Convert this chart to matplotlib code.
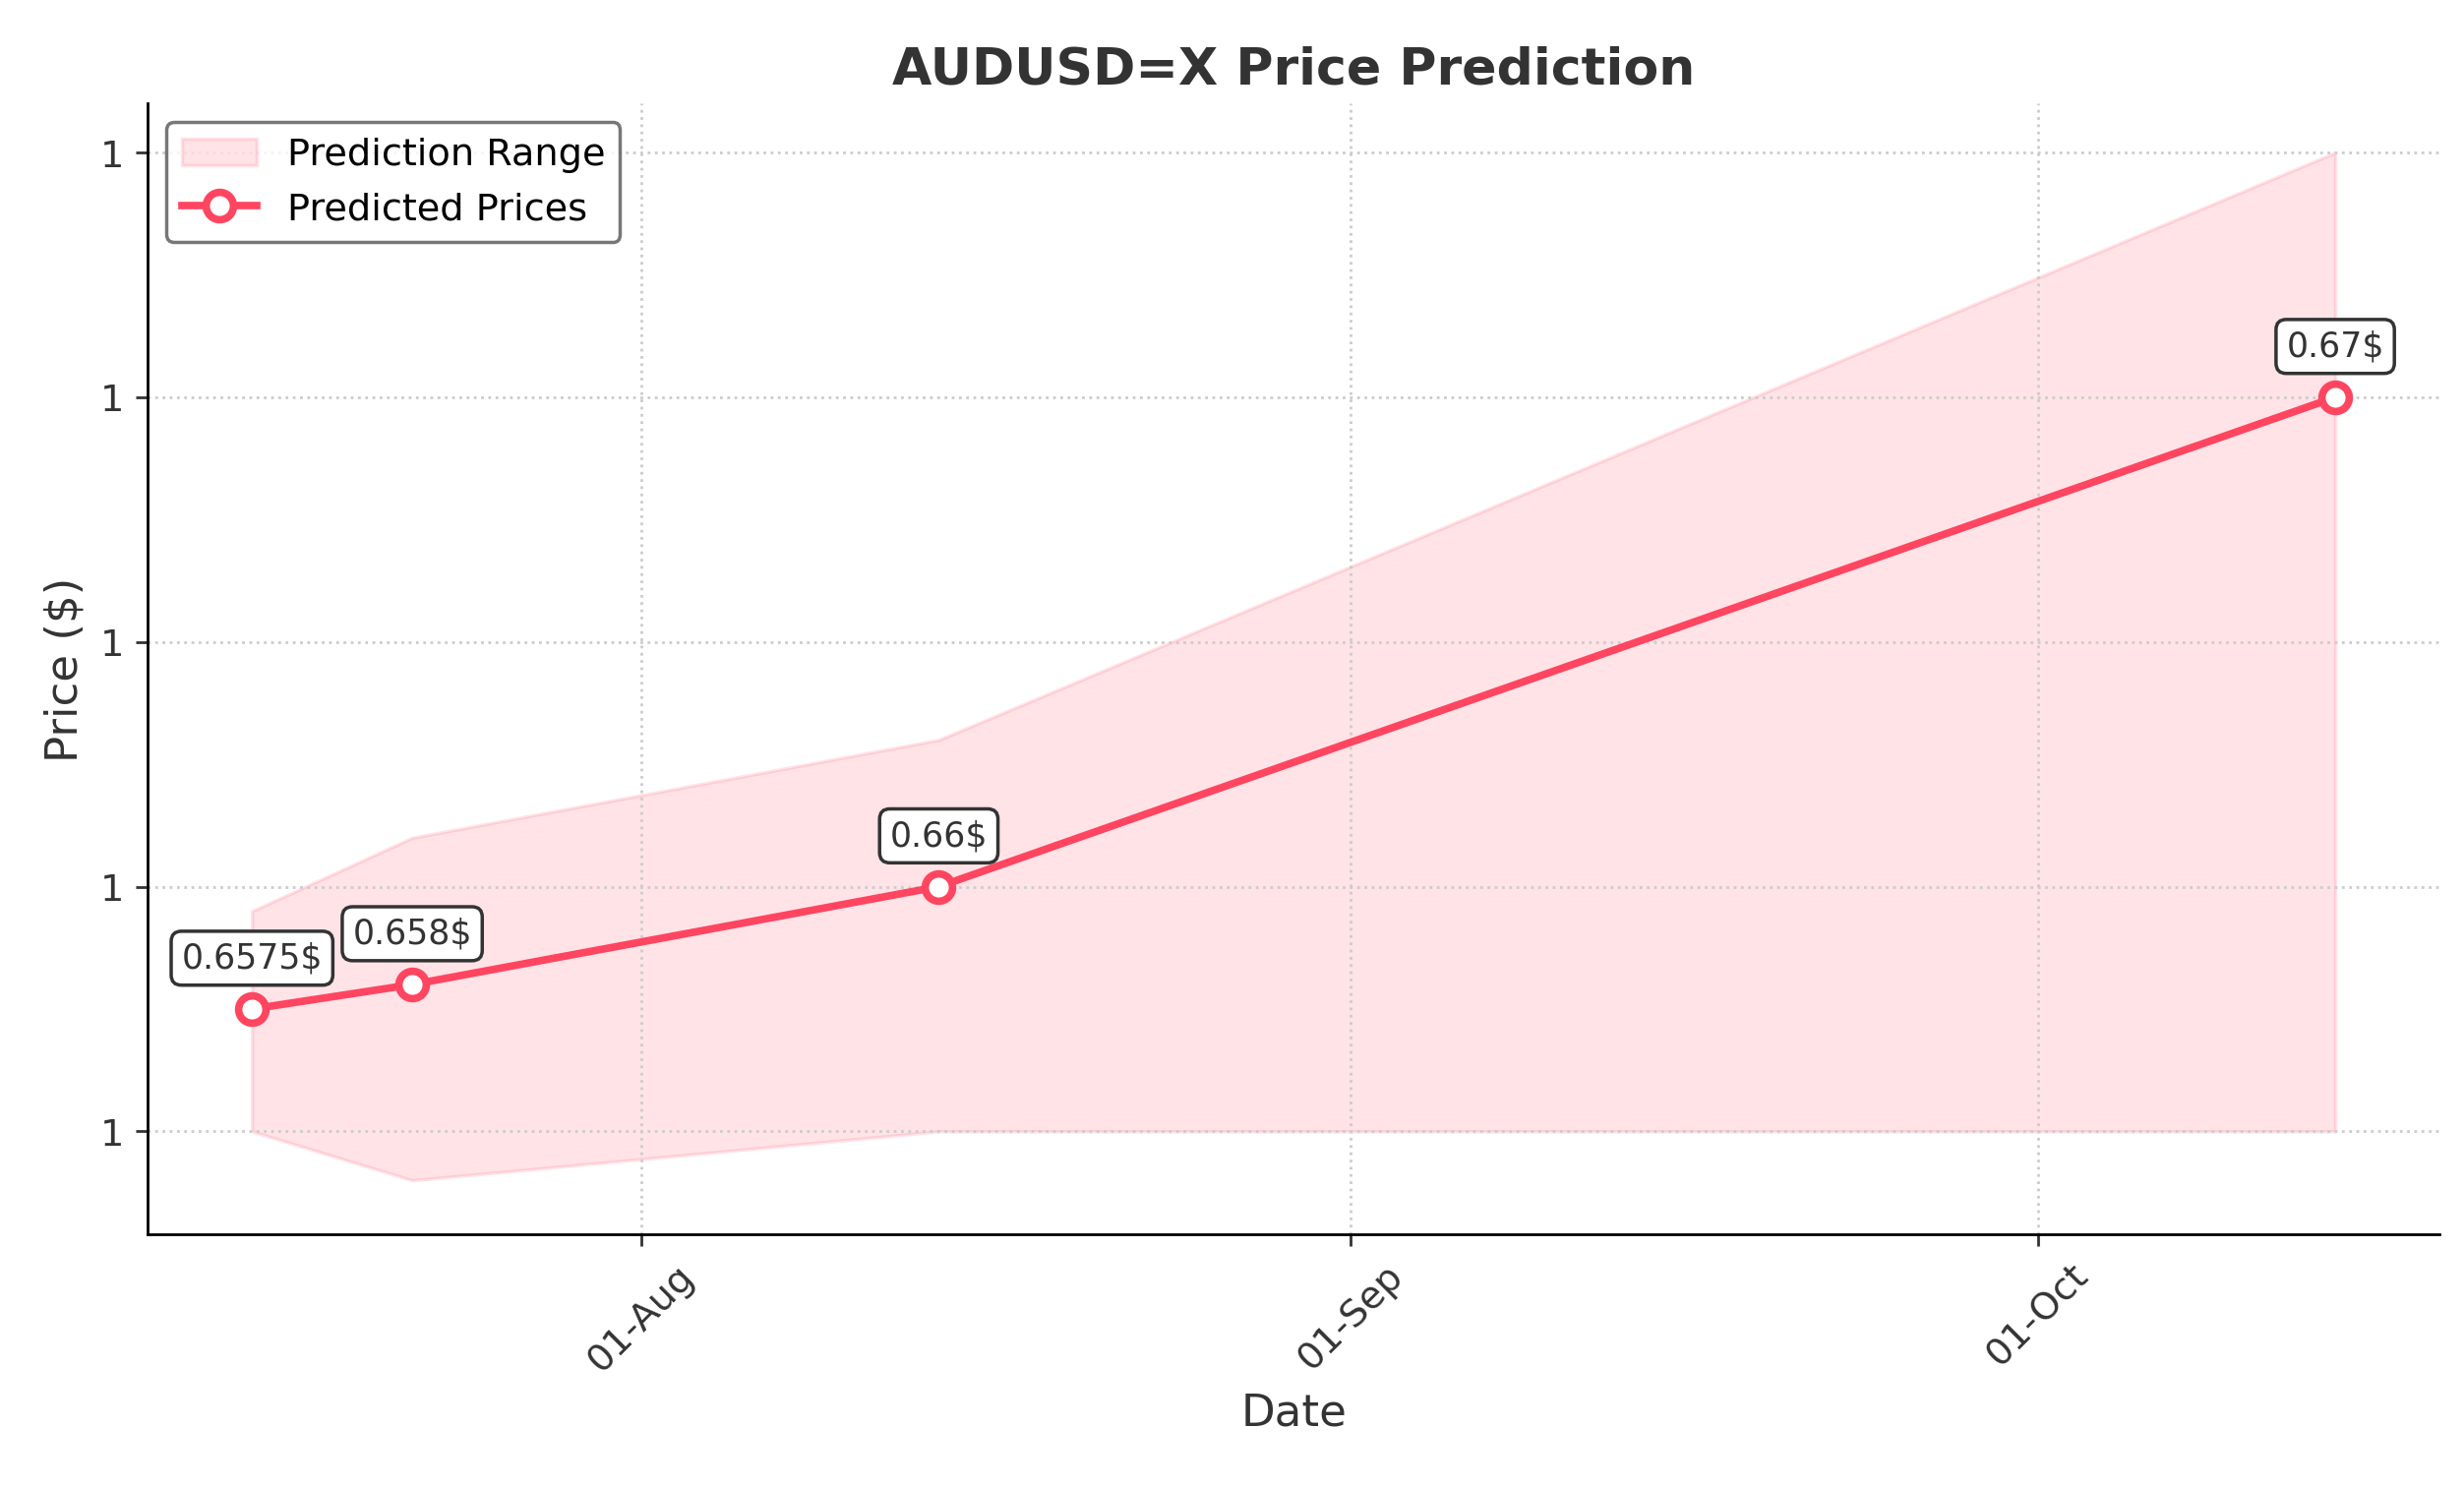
import matplotlib
matplotlib.use('agg')
import matplotlib.pyplot as plt
import matplotlib.dates as mdates
from matplotlib.ticker import FormatStrFormatter
import pandas as pd

dates = pd.to_datetime(['2024-07-15', '2024-07-22', '2024-08-14', '2024-10-14'])
predicted = [0.6575, 0.658, 0.66, 0.67]
lower = [0.655, 0.654, 0.655, 0.655]
upper = [0.6595, 0.661, 0.663, 0.675]
labels = ['0.6575$', '0.658$', '0.66$', '0.67$']

color = '#ff4560'
fig, ax = plt.subplots(figsize=(10.02, 6.05), dpi=250)
fig.subplots_adjust(left=0.06, right=0.99, top=0.93, bottom=0.17)

ax.fill_between(dates, lower, upper, color=color, alpha=0.15, label='Prediction Range')
ax.plot(dates, predicted, color=color, lw=2.2, marker='o', markersize=8,
        markerfacecolor='white', markeredgewidth=2.2, label='Predicted Prices')

for d, p, t in zip(dates, predicted, labels):
    ax.annotate(t, (d, p), xytext=(0, 12), textcoords='offset points', ha='center',
                fontsize=10, color='#333333',
                bbox=dict(boxstyle='round,pad=0.3', fc='white', ec='#333333', lw=1))

ax.set_title('AUDUSD=X Price Prediction', fontsize=15, fontweight='bold', color='#333333')
ax.set_xlabel('Date', fontsize=13, color='#333333')
ax.set_ylabel('Price ($)', fontsize=13, color='#333333')
ax.xaxis.set_major_locator(mdates.MonthLocator())
ax.xaxis.set_major_formatter(mdates.DateFormatter('%d-%b'))
ax.yaxis.set_major_formatter(FormatStrFormatter('%.0f'))
ax.set_yticks([0.655, 0.66, 0.665, 0.67, 0.675])
ax.set_ylim(0.6529, 0.676)
plt.setp(ax.get_xticklabels(), rotation=45)
ax.tick_params(colors='#333333', labelsize=11)
ax.grid(True, linestyle=':', color='#cccccc')
ax.spines['top'].set_visible(False)
ax.spines['right'].set_visible(False)
ax.legend(loc='upper left', fontsize=11, edgecolor='#555555')

fig.savefig('out.png')
